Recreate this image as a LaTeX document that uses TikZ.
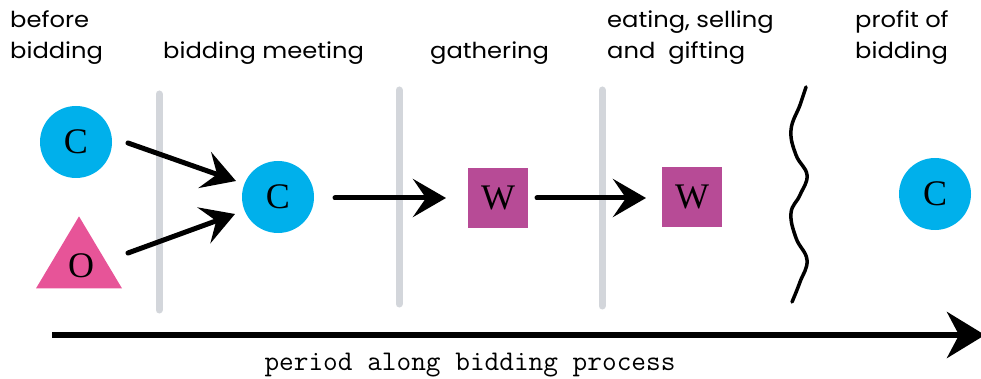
\documentclass[tikz,border=0pt]{standalone}
\usepackage{fontspec}
\newfontfamily\headfont[FakeStretch=1.1]{Poppins}
\newfontfamily\letterfont{Liberation Serif}
\usetikzlibrary{arrows.meta,shapes.geometric}
\definecolor{cbCyan}{RGB}{0,176,235}
\definecolor{cbPink}{RGB}{231,84,152}
\definecolor{cbPurple}{RGB}{183,75,150}
\definecolor{cbGray}{RGB}{211,214,219}
\tikzset{
  phase/.style={font=\headfont\fontsize{22}{31}\selectfont, align=left, anchor=west, inner sep=0pt},
  letter/.style={font=\letterfont\fontsize{36}{36}\selectfont, text=black, inner sep=0pt},
  cnode/.style={letter, circle, fill=cbCyan, minimum size=72pt},
  onode/.style={isosceles triangle, isosceles triangle apex angle=62, isosceles triangle stretches, shape border rotate=90, fill=cbPink, minimum height=72pt, minimum width=86pt, inner sep=0pt},
  wnode/.style={letter, rectangle, fill=cbPurple, minimum size=60pt},
  divider/.style={cbGray, line width=7pt, line cap=round},
  flow/.style={line width=5pt, line cap=round, -{Stealth[length=33pt,width=38pt,inset=13pt]}},
}
\begin{document}
\begin{tikzpicture}[x=1pt,y=-1pt]
\useasboundingbox (0,0) rectangle (981,379);

% phase headings
\node[phase] (hBefore) at (10,38) {before\\bidding};
\node[phase] (hMeet) at (163,53) {bidding meeting};
\node[phase] (hGather) at (430,53) {gathering};
\node[phase] (hEat) at (607,38) {eating, selling\\and\ \ gifting};
\node[phase] (hProfit) at (855,38) {profit of\\bidding};

% dividers between phases
\draw[divider] (159,94) -- (159,310);
\draw[divider] (399,90) -- (399,304);
\draw[divider] (602,90) -- (602,306);

% wavy break
\draw[line width=3.5pt, line cap=round] plot[smooth, tension=0.7] coordinates {
  (806,87) (800,105) (791,130) (796,155) (807,175) (800,195) (791,213) (796,238) (807,260) (800,282) (792,302)};

% actors
\node[cnode] (c1) at (76,142) {C};
\node[onode, anchor=apex] (o1) at (79,216) {};
\node[letter] (oLbl) at (81,266) {O};
\node[cnode] (c2) at (278,197) {C};
\node[wnode] (w1) at (498,198) {W};
\node[wnode] (w2) at (692,197) {W};
\node[cnode] (c3) at (935,194) {C};

% flows
\coordinate (a1s) at (128,143);
\coordinate (a1e) at (236,181);
\coordinate (a2s) at (128,253);
\coordinate (a2e) at (235,214);
\draw[flow] (a1s) -- (a1e);
\draw[flow] (a2s) -- (a2e);
\coordinate (a3s) at (335,198);
\coordinate (a3e) at (446,198);
\coordinate (a4s) at (537,198);
\coordinate (a4e) at (646,198);
\draw[flow] (a3s) -- (a3e);
\draw[flow] (a4s) -- (a4e);

% time axis
\coordinate (tStart) at (52,335);
\coordinate (tEnd) at (985,335);
\draw[line width=6pt, -{Stealth[length=38pt,width=46pt,inset=12pt]}] (tStart) -- (tEnd);
\node[font=\ttfamily\fontsize{28.5}{30}\selectfont, inner sep=0pt] (tLbl) at (470,365) {period along bidding process};
\end{tikzpicture}
\end{document}
